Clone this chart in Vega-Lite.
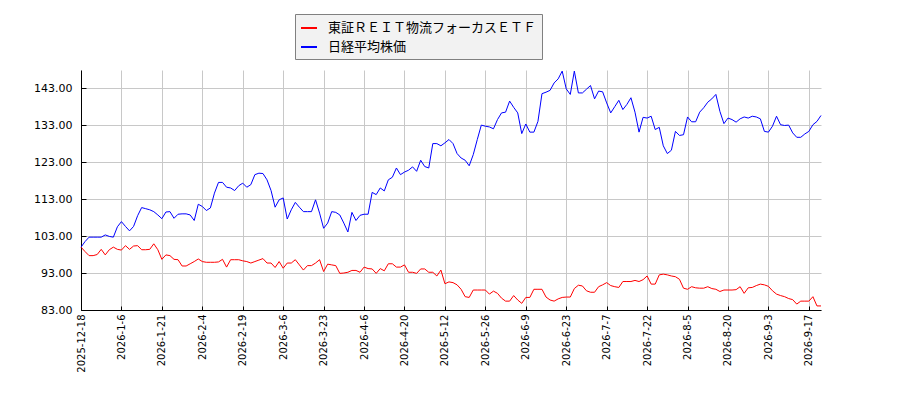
{
  "$schema": "https://vega.github.io/schema/vega-lite/v6.json",
  "width": 740,
  "height": 240,
  "autosize": {"type": "none"},
  "padding": {"left": 81, "top": 70, "right": 79, "bottom": 90},
  "background": "white",
  "config": {
    "view": {"stroke": null},
    "font": "DejaVu Sans",
    "axis": {
      "domainColor": "black",
      "tickColor": "black",
      "gridColor": "#c8c8c8",
      "gridWidth": 1,
      "labelColor": "black",
      "labelFont": "DejaVu Sans"
    }
  },
  "data": {
    "values": [
      {"i":0,"etf":100.0,"n225":100.0},{"i":1,"etf":98.8,"n225":101.5},{"i":2,"etf":97.7,"n225":102.7},{"i":3,"etf":97.7,"n225":102.7},
      {"i":4,"etf":98.0,"n225":102.7},{"i":5,"etf":99.4,"n225":102.7},{"i":6,"etf":97.9,"n225":103.3},{"i":7,"etf":99.3,"n225":102.9},
      {"i":8,"etf":100.0,"n225":102.7},{"i":9,"etf":99.4,"n225":105.5},{"i":10,"etf":99.2,"n225":106.9},{"i":11,"etf":100.4,"n225":105.6},
      {"i":12,"etf":99.4,"n225":104.4},{"i":13,"etf":100.3,"n225":105.6},{"i":14,"etf":100.4,"n225":108.5},{"i":15,"etf":99.3,"n225":110.7},
      {"i":16,"etf":99.3,"n225":110.4},{"i":17,"etf":99.4,"n225":110.1},{"i":18,"etf":100.9,"n225":109.6},{"i":19,"etf":99.3,"n225":108.7},
      {"i":20,"etf":96.7,"n225":107.7},{"i":21,"etf":97.9,"n225":109.5},{"i":22,"etf":97.7,"n225":109.6},{"i":23,"etf":96.7,"n225":107.8},
      {"i":24,"etf":96.6,"n225":108.9},{"i":25,"etf":94.9,"n225":109.0},{"i":26,"etf":94.9,"n225":109.0},{"i":27,"etf":95.5,"n225":108.7},
      {"i":28,"etf":96.1,"n225":107.2},{"i":29,"etf":96.8,"n225":111.6},{"i":30,"etf":96.1,"n225":111.0},{"i":31,"etf":95.9,"n225":109.9},
      {"i":32,"etf":95.9,"n225":110.6},{"i":33,"etf":95.9,"n225":114.6},{"i":34,"etf":96.0,"n225":117.5},{"i":35,"etf":96.7,"n225":117.5},
      {"i":36,"etf":94.6,"n225":116.2},{"i":37,"etf":96.6,"n225":116.0},{"i":38,"etf":96.6,"n225":115.3},{"i":39,"etf":96.6,"n225":116.6},
      {"i":40,"etf":96.3,"n225":117.3},{"i":41,"etf":96.1,"n225":116.2},{"i":42,"etf":95.7,"n225":116.9},{"i":43,"etf":96.1,"n225":119.6},
      {"i":44,"etf":96.5,"n225":120.0},{"i":45,"etf":96.9,"n225":119.9},{"i":46,"etf":95.7,"n225":118.2},{"i":47,"etf":95.7,"n225":115.3},
      {"i":48,"etf":94.5,"n225":110.8},{"i":49,"etf":96.1,"n225":112.8},{"i":50,"etf":94.3,"n225":113.3},{"i":51,"etf":95.7,"n225":107.6},
      {"i":52,"etf":95.7,"n225":110.1},{"i":53,"etf":96.6,"n225":112.1},{"i":54,"etf":95.2,"n225":110.8},{"i":55,"etf":93.8,"n225":109.6},
      {"i":56,"etf":95.0,"n225":109.6},{"i":57,"etf":95.0,"n225":109.6},{"i":58,"etf":95.7,"n225":112.8},{"i":59,"etf":96.6,"n225":109.2},
      {"i":60,"etf":93.4,"n225":105.1},{"i":61,"etf":95.4,"n225":106.5},{"i":62,"etf":95.2,"n225":109.6},{"i":63,"etf":95.0,"n225":109.4},
      {"i":64,"etf":92.9,"n225":108.7},{"i":65,"etf":93.0,"n225":106.5},{"i":66,"etf":93.2,"n225":104.1},{"i":67,"etf":93.7,"n225":109.4},
      {"i":68,"etf":93.7,"n225":107.2},{"i":69,"etf":93.2,"n225":108.6},{"i":70,"etf":94.6,"n225":108.9},{"i":71,"etf":94.2,"n225":108.9},
      {"i":72,"etf":94.1,"n225":114.8},{"i":73,"etf":92.9,"n225":114.2},{"i":74,"etf":94.2,"n225":116.0},{"i":75,"etf":93.6,"n225":115.2},
      {"i":76,"etf":95.5,"n225":118.2},{"i":77,"etf":95.5,"n225":118.9},{"i":78,"etf":94.6,"n225":121.4},{"i":79,"etf":94.6,"n225":119.6},
      {"i":80,"etf":95.2,"n225":120.3},{"i":81,"etf":93.2,"n225":120.8},{"i":82,"etf":93.2,"n225":121.7},{"i":83,"etf":92.9,"n225":120.5},
      {"i":84,"etf":94.1,"n225":123.5},{"i":85,"etf":94.1,"n225":121.8},{"i":86,"etf":93.2,"n225":121.4},{"i":87,"etf":93.2,"n225":128.0},
      {"i":88,"etf":92.2,"n225":128.0},{"i":89,"etf":93.8,"n225":127.4},{"i":90,"etf":90.1,"n225":128.2},{"i":91,"etf":90.6,"n225":129.1},
      {"i":92,"etf":90.4,"n225":128.0},{"i":93,"etf":89.8,"n225":125.3},{"i":94,"etf":88.6,"n225":124.1},{"i":95,"etf":86.6,"n225":123.5},
      {"i":96,"etf":86.4,"n225":122.0},{"i":97,"etf":88.4,"n225":125.0},{"i":98,"etf":88.4,"n225":129.1},{"i":99,"etf":88.4,"n225":133.0},
      {"i":100,"etf":88.4,"n225":132.7},{"i":101,"etf":87.3,"n225":132.5},{"i":102,"etf":88.1,"n225":132.0},{"i":103,"etf":87.5,"n225":134.5},
      {"i":104,"etf":86.2,"n225":136.3},{"i":105,"etf":85.4,"n225":136.5},{"i":106,"etf":85.4,"n225":139.5},{"i":107,"etf":86.9,"n225":137.8},
      {"i":108,"etf":85.7,"n225":136.3},{"i":109,"etf":84.8,"n225":130.7},{"i":110,"etf":86.4,"n225":133.3},{"i":111,"etf":86.4,"n225":131.1},
      {"i":112,"etf":88.6,"n225":131.1},{"i":113,"etf":88.6,"n225":134.0},{"i":114,"etf":88.6,"n225":141.5},{"i":115,"etf":86.5,"n225":141.9},
      {"i":116,"etf":85.7,"n225":142.4},{"i":117,"etf":85.4,"n225":144.4},{"i":118,"etf":86.0,"n225":145.5},{"i":119,"etf":86.4,"n225":147.6},
      {"i":120,"etf":86.5,"n225":142.8},{"i":121,"etf":86.5,"n225":141.3},{"i":122,"etf":88.8,"n225":147.6},{"i":123,"etf":89.7,"n225":141.7},
      {"i":124,"etf":89.5,"n225":141.7},{"i":125,"etf":88.2,"n225":142.7},{"i":126,"etf":87.8,"n225":143.7},{"i":127,"etf":87.8,"n225":140.1},
      {"i":128,"etf":89.3,"n225":142.2},{"i":129,"etf":89.8,"n225":142.0},{"i":130,"etf":90.4,"n225":139.0},{"i":131,"etf":89.6,"n225":136.3},
      {"i":132,"etf":89.3,"n225":138.0},{"i":133,"etf":89.1,"n225":139.7},{"i":134,"etf":90.7,"n225":137.2},{"i":135,"etf":90.7,"n225":138.6},
      {"i":136,"etf":90.7,"n225":140.4},{"i":137,"etf":91.0,"n225":136.5},{"i":138,"etf":90.7,"n225":131.1},{"i":139,"etf":91.2,"n225":135.1},
      {"i":140,"etf":92.2,"n225":134.9},{"i":141,"etf":90.0,"n225":135.4},{"i":142,"etf":90.0,"n225":131.8},{"i":143,"etf":92.5,"n225":132.4},
      {"i":144,"etf":92.7,"n225":127.4},{"i":145,"etf":92.5,"n225":125.3},{"i":146,"etf":92.2,"n225":126.2},{"i":147,"etf":92.0,"n225":131.3},
      {"i":148,"etf":91.3,"n225":130.2},{"i":149,"etf":88.9,"n225":130.4},{"i":150,"etf":88.6,"n225":135.2},{"i":151,"etf":89.3,"n225":133.9},
      {"i":152,"etf":89.0,"n225":133.9},{"i":153,"etf":88.9,"n225":136.5},{"i":154,"etf":88.9,"n225":137.7},{"i":155,"etf":89.3,"n225":139.2},
      {"i":156,"etf":88.8,"n225":140.1},{"i":157,"etf":88.6,"n225":141.3},{"i":158,"etf":88.0,"n225":136.7},{"i":159,"etf":88.4,"n225":133.4},
      {"i":160,"etf":88.4,"n225":134.9},{"i":161,"etf":88.4,"n225":134.5},{"i":162,"etf":88.5,"n225":133.8},{"i":163,"etf":89.3,"n225":134.7},
      {"i":164,"etf":87.5,"n225":135.2},{"i":165,"etf":89.0,"n225":134.9},{"i":166,"etf":89.1,"n225":135.4},{"i":167,"etf":89.6,"n225":135.2},
      {"i":168,"etf":90.0,"n225":134.7},{"i":169,"etf":89.8,"n225":131.3},{"i":170,"etf":89.4,"n225":131.1},{"i":171,"etf":88.2,"n225":132.7},
      {"i":172,"etf":87.3,"n225":135.4},{"i":173,"etf":86.9,"n225":133.1},{"i":174,"etf":86.6,"n225":132.9},{"i":175,"etf":86.1,"n225":133.0},
      {"i":176,"etf":85.8,"n225":130.9},{"i":177,"etf":84.6,"n225":129.7},{"i":178,"etf":85.4,"n225":129.7},{"i":179,"etf":85.4,"n225":130.6},
      {"i":180,"etf":85.4,"n225":131.3},{"i":181,"etf":86.6,"n225":133.1},{"i":182,"etf":84.1,"n225":134.0},{"i":183,"etf":84.1,"n225":135.6}
    ]
  },
  "transform": [
    {"fold": ["etf", "n225"], "as": ["series", "value"]}
  ],
  "mark": {"type": "line", "strokeWidth": 1, "interpolate": "linear"},
  "encoding": {
    "x": {
      "field": "i",
      "type": "quantitative",
      "title": null,
      "scale": {"domain": [0, 183], "nice": false, "zero": false},
      "axis": {
        "values": [0, 10, 20, 30, 40, 50, 60, 70, 80, 90, 100, 110, 120, 130, 140, 150, 160, 170, 180],
        "labelExpr": "['2025-12-18','2026-1-6','2026-1-21','2026-2-4','2026-2-19','2026-3-6','2026-3-23','2026-4-6','2026-4-20','2026-5-12','2026-5-26','2026-6-9','2026-6-23','2026-7-7','2026-7-22','2026-8-5','2026-8-20','2026-9-3','2026-9-17'][round(datum.value / 10)]",
        "labelAngle": 270,
        "labelAlign": "right",
        "labelBaseline": "middle",
        "labelFontSize": 10,
        "labelPadding": 8,
        "tickSize": -4,
        "grid": true,
        "labelOverlap": false,
        "labelFlush": false
      }
    },
    "y": {
      "field": "value",
      "type": "quantitative",
      "title": null,
      "scale": {"domain": [83, 147.9], "nice": false, "zero": false},
      "axis": {
        "values": [83, 93, 103, 113, 123, 133, 143],
        "format": ".2f",
        "labelFontSize": 11,
        "labelPadding": 14,
        "tickSize": -5,
        "grid": true,
        "labelOverlap": false,
        "labelFlush": false
      }
    },
    "color": {
      "field": "series",
      "type": "nominal",
      "scale": {"domain": ["etf", "n225"], "range": ["#ff0000", "#0000ff"]},
      "legend": {
        "title": null,
        "orient": "none",
        "legendX": 214,
        "legendY": -56,
        "labelExpr": "datum.value == 'etf' ? '東証ＲＥＩＴ物流フォーカスＥＴＦ' : '日経平均株価'",
        "labelFont": "Noto Sans CJK JP",
        "labelFontSize": 13,
        "labelColor": "black",
        "labelLimit": 400,
        "labelOffset": 10,
        "symbolType": "stroke",
        "symbolSize": 256,
        "symbolStrokeWidth": 2,
        "rowPadding": 3,
        "padding": 5,
        "fillColor": "#f2f2f2",
        "strokeColor": "#808080",
        "cornerRadius": 0
      }
    }
  }
}
